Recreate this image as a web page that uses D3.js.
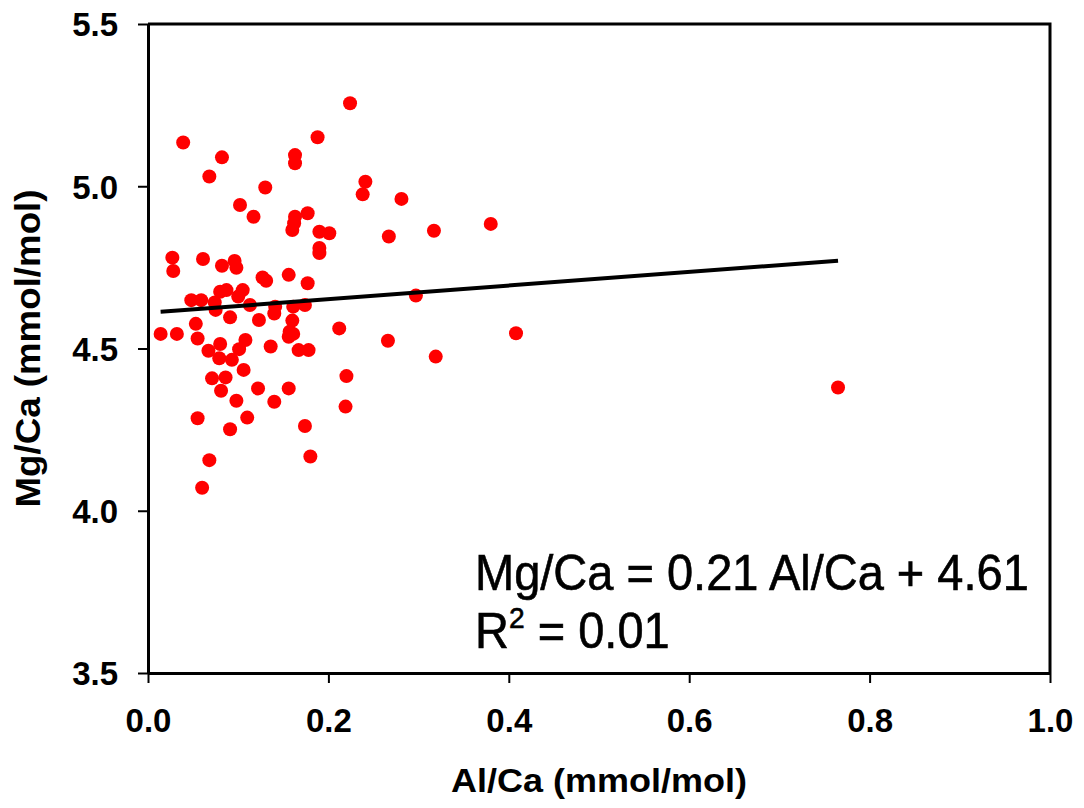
<!DOCTYPE html>
<html>
<head>
<meta charset="utf-8">
<script src="https://cdn.jsdelivr.net/npm/d3@7"></script>
<style>
  html, body { margin: 0; padding: 0; background: #fff; }
  svg { display: block; font-family: "Liberation Sans", Arial, sans-serif; }
</style>
</head>
<body>
<svg id="chart" width="1084" height="808"></svg>
<script>
// Al/Ca vs Mg/Ca (mmol/mol)
const alCa = [
  0.039, 0.082, 0.068, 0.130, 0.102, 0.117, 0.163, 0.163, 0.188, 0.163,
  0.162, 0.160, 0.177, 0.190, 0.201, 0.190, 0.190, 0.027, 0.028, 0.061,
  0.082, 0.096, 0.098, 0.127, 0.131, 0.156, 0.177,
  0.048, 0.059, 0.080, 0.087, 0.105, 0.100, 0.074, 0.075, 0.113, 0.091,
  0.123, 0.141, 0.140, 0.161, 0.174, 0.160, 0.157, 0.161, 0.156, 0.212,
  0.014, 0.032, 0.053, 0.055, 0.067, 0.080, 0.079, 0.093, 0.101, 0.108,
  0.136, 0.167, 0.178, 0.106, 0.071, 0.086, 0.081, 0.098, 0.122, 0.156,
  0.140, 0.055, 0.091, 0.110, 0.174, 0.068, 0.180, 0.060,
  0.266, 0.319, 0.297, 0.408, 0.220, 0.219,
  0.224, 0.241, 0.238, 0.281, 0.317, 0.267, 0.380,
  0.765
];
const mgCa = [
  5.135, 5.089, 5.030, 4.996, 4.942, 4.906, 5.096, 5.071, 5.151, 4.906,
  4.886, 4.865, 4.917, 4.860, 4.855, 4.810, 4.794, 4.780, 4.739, 4.776,
  4.755, 4.770, 4.749, 4.719, 4.709, 4.727, 4.701,
  4.649, 4.649, 4.675, 4.680, 4.680, 4.660, 4.642, 4.619, 4.634, 4.596,
  4.588, 4.629, 4.608, 4.629, 4.634, 4.586, 4.552, 4.545, 4.536, 4.562,
  4.545, 4.545, 4.576, 4.531, 4.493, 4.514, 4.470, 4.465, 4.498, 4.526,
  4.506, 4.495, 4.495, 4.434, 4.408, 4.411, 4.370, 4.339, 4.377, 4.377,
  4.336, 4.285, 4.251, 4.287, 4.261, 4.156, 4.167, 4.071,
  4.524, 4.475, 4.663, 4.547, 4.415, 4.321,
  5.256, 5.014, 4.975, 4.961, 4.863, 4.845, 4.884,
  4.380
];

const slope = 0.21, intercept = 4.61;
const xTicks = [0, 0.2, 0.4, 0.6, 0.8, 1.0];
const yTicks = [3.5, 4.0, 4.5, 5.0, 5.5];

const svg = d3.select('#chart');
const L = 148, R = 1050, T = 24, B = 673;

const x = d3.scaleLinear().domain([0, 1]).range([L, R]);
const y = d3.scaleLinear().domain([3.5, 5.5]).range([B, T]);

// points
svg.append('g')
  .selectAll('circle')
  .data(alCa.map((a, i) => [a, mgCa[i]]))
  .join('circle')
  .attr('cx', d => x(d[0]))
  .attr('cy', d => y(d[1]))
  .attr('r', 7)
  .attr('fill', '#ff0000');

// regression line over the data range
const [xmin, xmax] = d3.extent(alCa);
svg.append('line')
  .attr('x1', x(xmin)).attr('y1', y(slope * xmin + intercept))
  .attr('x2', x(xmax)).attr('y2', y(slope * xmax + intercept))
  .attr('stroke', '#000')
  .attr('stroke-width', 4);

// axes
const xAxis = svg.append('g')
  .attr('transform', `translate(0,${B})`)
  .call(d3.axisBottom(x).tickValues(xTicks).tickFormat(d3.format('.1f'))
    .tickSize(10).tickSizeOuter(0).tickPadding(26));

const yAxis = svg.append('g')
  .attr('transform', `translate(${L},0)`)
  .call(d3.axisLeft(y).tickValues(yTicks).tickFormat(d3.format('.1f'))
    .tickSize(10).tickSizeOuter(0).tickPadding(20));

[xAxis, yAxis].forEach(g => {
  g.select('.domain').attr('stroke', '#000').attr('stroke-width', 3);
  g.selectAll('.tick line').attr('stroke', '#000').attr('stroke-width', 2);
  g.selectAll('.tick text')
    .attr('fill', '#000')
    .style('font-size', '33px')
    .style('font-weight', 'bold')
    .style('font-family', '"Liberation Sans", Arial, sans-serif');
});
yAxis.selectAll('.tick text').attr('dy', '0.36em');

// top and right frame lines
svg.append('path')
  .attr('d', `M${L},${T}H${R}V${B}`)
  .attr('fill', 'none')
  .attr('stroke', '#000')
  .attr('stroke-width', 3);

// axis titles
svg.append('text')
  .attr('x', (L + R) / 2).attr('y', 792)
  .attr('text-anchor', 'middle')
  .attr('textLength', 296).attr('lengthAdjust', 'spacingAndGlyphs')
  .style('font-size', '33px').style('font-weight', 'bold')
  .text('Al/Ca (mmol/mol)');

svg.append('text')
  .attr('transform', `translate(40,${(T + B) / 2}) rotate(-90)`)
  .attr('text-anchor', 'middle')
  .attr('textLength', 318).attr('lengthAdjust', 'spacingAndGlyphs')
  .style('font-size', '35px').style('font-weight', 'bold')
  .text('Mg/Ca (mmol/mol)');

// regression equation
const eq = svg.append('g').attr('transform', 'translate(475,590) scale(0.94,1)')
  .style('font-size', '50px')
  .attr('stroke', '#000').attr('stroke-width', 0.6);
eq.append('text').text(`Mg/Ca = ${slope} Al/Ca + ${intercept}`);
const r2 = eq.append('text').attr('y', 58);
r2.append('tspan').text('R');
r2.append('tspan').attr('dy', -20).style('font-size', '30px').text('2');
r2.append('tspan').attr('dy', 20).text(' = 0.01');
</script>
</body>
</html>
